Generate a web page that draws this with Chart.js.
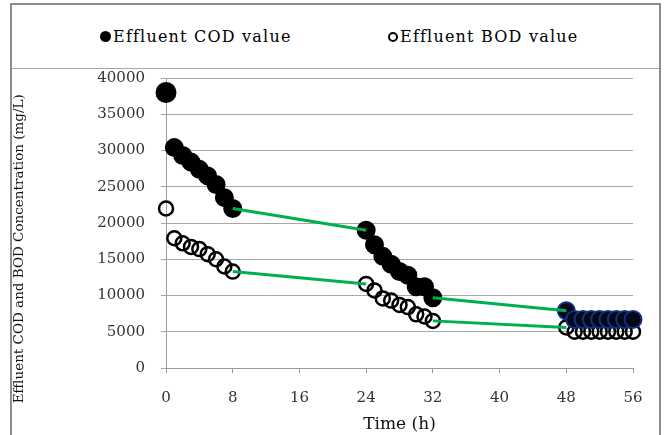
<!DOCTYPE html>
<html>
<head>
<meta charset="utf-8">
<script src="https://cdn.jsdelivr.net/npm/chart.js@4.4.1/dist/chart.umd.min.js"></script>
<style>
  html, body { margin: 0; padding: 0; background: #fff; }
  #wrap { position: relative; width: 667px; height: 435px; overflow: hidden; }
  #frame { position: absolute; left: 10px; top: 3px; width: 647px; height: 480px; border: 2px solid #8c8c8c; }
  #legend { position: absolute; left: 12px; top: 5px; width: 647px; height: 63px; border-bottom: 1px solid #a6a6a6;
            font-family: "DejaVu Serif"; font-size: 16px; letter-spacing: 1.2px; color: #000; }
  .item { position: absolute; top: 22px; display: flex; align-items: center; white-space: nowrap; }
  .mark { width: 11px; height: 11px; border-radius: 50%; box-sizing: border-box; margin-right: 2px; }
  #chart { position: absolute; left: 0; top: 0; }
</style>
</head>
<body>
<div id="wrap">
  <div id="frame"></div>
  <div id="legend"></div>
  <canvas id="chart" width="667" height="435"></canvas>
</div>
<script>
// sampling times (h) and measured concentrations (mg/L)
var timeH = [0, 1, 2, 3, 4, 5, 6, 7, 8,
             24, 25, 26, 27, 28, 29, 30, 31, 32,
             48, 49, 50, 51, 52, 53, 54, 55, 56];
var codVals = [38000, 30400, 29300, 28400, 27400, 26500, 25300, 23500, 22000,
               19000, 17000, 15400, 14300, 13300, 12800, 11200, 11200, 9700,
               7900, 6700, 6700, 6700, 6700, 6700, 6700, 6700, 6700];
var bodVals = [22000, 17900, 17200, 16700, 16400, 15700, 15000, 14000, 13300,
               11600, 10700, 9600, 9300, 8700, 8400, 7400, 7100, 6500,
               5600, 5000, 5000, 5000, 5000, 5000, 5000, 5000, 5000];
var xTicks = [0, 8, 16, 24, 32, 40, 48, 56];
var yTicks = [0, 5000, 10000, 15000, 20000, 25000, 30000, 35000, 40000];

function points(vals) {
    return timeH.map((t, i) => ({x: t, y: vals[i]}));
}

// green connectors between the sampling periods
function bridges(vals) {
    var pts = [];
    for (var i = 1; i < timeH.length; i++) {
        if (timeH[i] - timeH[i - 1] > 1) {
            pts.push({x: timeH[i - 1], y: vals[i - 1]}, {x: timeH[i], y: vals[i]}, {x: timeH[i], y: null});
        }
    }
    return pts;
}

var serif = "DejaVu Serif";
var green = '#00b050';

var chart = new Chart(document.getElementById('chart'), {
    type: 'scatter',
    data: {
        datasets: [{
            type: 'line',
            label: 'cod-link',
            data: bridges(codVals),
            borderColor: green,
            borderWidth: 3,
            pointRadius: 0,
            spanGaps: false,
            order: 1
        }, {
            type: 'line',
            label: 'bod-link',
            data: bridges(bodVals),
            borderColor: green,
            borderWidth: 3,
            pointRadius: 0,
            spanGaps: false,
            order: 2
        }, {
            label: 'Effluent COD value',
            data: points(codVals),
            pointRadius: timeH.map(t => t === 0 ? 9.5 : 8.5),
            pointBackgroundColor: timeH.map(t => t >= 48 ? '#05081a' : '#000'),
            pointBorderColor: timeH.map(t => t >= 48 ? '#13307a' : '#000'),
            pointBorderWidth: 2,
            clip: false,
            order: 3
        }, {
            label: 'Effluent BOD value',
            data: points(bodVals),
            pointRadius: 7,
            pointBackgroundColor: 'rgba(255,255,255,0)',
            pointBorderColor: '#000',
            pointBorderWidth: 2.5,
            clip: false,
            order: 4
        }]
    },
    options: {
        responsive: false,
        animation: false,
        layout: { padding: { left: 0, right: 34, top: 78, bottom: 0 } },
        plugins: {
            legend: { display: false },
            tooltip: { enabled: false }
        },
        scales: {
            x: {
                type: 'linear',
                min: xTicks[0],
                max: xTicks[xTicks.length - 1],
                afterFit: s => { s.height = 67; },
                afterBuildTicks: s => { s.ticks = xTicks.map(v => ({value: v})); },
                border: { color: '#9a9a9a', width: 1 },
                grid: { drawOnChartArea: false, drawTicks: true, tickLength: 5, color: '#9a9a9a' },
                ticks: { padding: 16, color: '#333', font: { family: serif, size: 15 },
                         callback: v => String(v) },
                title: { display: true, text: 'Time (h)', color: '#111',
                         font: { family: serif, size: 17 }, padding: { top: 0, bottom: 0 } }
            },
            y: {
                min: yTicks[0],
                max: yTicks[yTicks.length - 1],
                afterFit: s => { s.width = 166; },
                afterBuildTicks: s => { s.ticks = yTicks.map(v => ({value: v})); },
                border: { color: '#9a9a9a', width: 1 },
                grid: { drawTicks: true, tickLength: 5, color: '#a6a6a6' },
                ticks: { padding: 16, color: '#333', font: { family: serif, size: 15 },
                         callback: v => String(v) },
                // trailing spaces push the rotated title down like the original layout
                title: { display: true, text: 'Effluent COD and BOD Concentration (mg/L)' + ' '.repeat(12), color: '#111',
                         font: { family: serif, size: 13.5 }, padding: { top: 11, bottom: 0 } }
            }
        }
    }
});

// legend built from the two marker datasets
var legend = document.getElementById('legend');
var legendLeft = [88, 376];
[2, 3].forEach((di, k) => {
    var ds = chart.data.datasets[di];
    var item = document.createElement('div');
    item.className = 'item';
    item.style.left = legendLeft[k] + 'px';
    var mark = document.createElement('span');
    mark.className = 'mark';
    if (k === 0) {
        mark.style.background = '#000';
    } else {
        mark.style.width = '10px';
        mark.style.height = '10px';
        mark.style.border = '2.5px solid #000';
    }
    var txt = document.createElement('span');
    txt.textContent = ds.label;
    item.appendChild(mark);
    item.appendChild(txt);
    legend.appendChild(item);
});
</script>
</body>
</html>
